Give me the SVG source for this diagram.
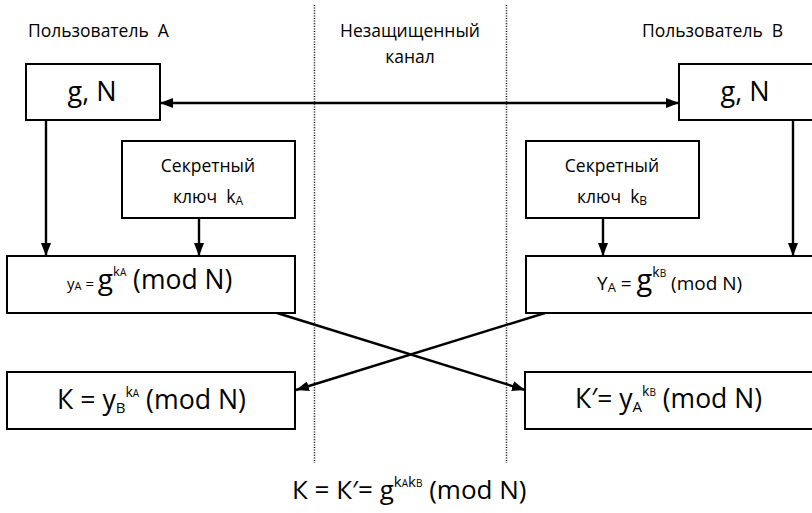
<svg xmlns="http://www.w3.org/2000/svg" width="812" height="513" viewBox="0 0 812 513">
<style>
text{font-family:"Open Sans","Noto Sans","DejaVu Sans",sans-serif;fill:#000;white-space:pre}
.box{fill:#fff;stroke:#000;stroke-width:2}
.lbl{font-size:17.5px}
.big{font-size:27px}
.sec{font-size:17.5px}
.dot{stroke:#000;stroke-width:1.5;stroke-dasharray:1 1.6;fill:none}
.arr{stroke:#000;stroke-width:2.4;fill:none}
</style>
<defs>
<marker id="ah" viewBox="0 0 13 10" refX="13" refY="5" markerWidth="13" markerHeight="10" markerUnits="userSpaceOnUse" orient="auto-start-reverse">
<path d="M0,0 L13,5 L0,10 z" fill="#000"/>
</marker>
</defs>
<rect width="812" height="513" fill="#fff"/>
<g id="channel">
<line class="dot" x1="314.5" y1="5" x2="314.5" y2="463"/>
<line class="dot" x1="506.5" y1="5" x2="506.5" y2="463"/>
<text class="lbl" x="410" y="37" text-anchor="middle">Незащищенный</text>
<text class="lbl" x="410" y="63" text-anchor="middle">канал</text>
</g>
<g id="userA"><text class="lbl" x="28" y="37" xml:space="preserve">Пользователь  A</text></g>
<g id="userB"><text class="lbl" x="642" y="37" xml:space="preserve">Пользователь  B</text></g>
<g id="connectors">
<line class="arr" x1="160" y1="103" x2="679" y2="103" marker-start="url(#ah)" marker-end="url(#ah)"/>
<line class="arr" x1="46" y1="120" x2="46" y2="256" marker-end="url(#ah)"/>
<line class="arr" x1="199" y1="218" x2="199" y2="256" marker-end="url(#ah)"/>
<line class="arr" x1="603" y1="218" x2="603" y2="256" marker-end="url(#ah)"/>
<line class="arr" x1="793" y1="120" x2="793" y2="256" marker-end="url(#ah)"/>
<line class="arr" x1="277" y1="313" x2="525" y2="390" marker-end="url(#ah)"/>
<line class="arr" x1="545" y1="313" x2="296" y2="390" marker-end="url(#ah)"/>
</g>
<g id="gN_A">
<rect class="box" x="26" y="64" width="134" height="56"/>
<text class="big" x="92" y="101" text-anchor="middle">g, N</text>
</g>
<g id="gN_B">
<rect class="box" x="679" y="64" width="140" height="56"/>
<text class="big" x="745" y="101" text-anchor="middle">g, N</text>
</g>
<g id="keyA">
<rect class="box" x="122" y="141" width="173" height="77"/>
<text class="sec" x="208" y="172" text-anchor="middle">Секретный</text>
<text class="sec" x="208" y="203" text-anchor="middle" xml:space="preserve">ключ  k<tspan font-size="12" dy="2">A</tspan></text>
</g>
<g id="keyB">
<rect class="box" x="526" y="141" width="173" height="77"/>
<text class="sec" x="612" y="172" text-anchor="middle">Секретный</text>
<text class="sec" x="612" y="203" text-anchor="middle" xml:space="preserve">ключ  k<tspan font-size="12" dy="2">B</tspan></text>
</g>
<g id="yA">
<rect class="box" x="7" y="256" width="288" height="57"/>
<text x="67" y="289" font-size="15">y<tspan font-size="11" dy="1">A</tspan><tspan dy="-1"> = </tspan><tspan font-size="28">g</tspan><tspan font-size="13" dy="-13">k</tspan><tspan font-size="10">A</tspan><tspan font-size="26.5" dy="13"> (mod N)</tspan></text>
</g>
<g id="yB">
<rect class="box" x="526" y="256" width="293" height="57"/>
<text x="597" y="290" font-size="19">Y<tspan font-size="13" dy="2">A</tspan><tspan dy="-2"> = </tspan><tspan font-size="29">g</tspan><tspan font-size="14" dy="-13">k</tspan><tspan font-size="10">B</tspan><tspan font-size="19" dy="13"> (mod N)</tspan></text>
</g>
<g id="KA">
<rect class="box" x="7" y="372" width="288" height="57"/>
<text x="57" y="409" font-size="26.7">К = y<tspan font-size="15" dy="4">B</tspan><tspan font-size="14" dy="-16">k</tspan><tspan font-size="10">A</tspan><tspan dy="12"> (mod N)</tspan></text>
</g>
<g id="KB">
<rect class="box" x="525" y="372" width="294" height="57"/>
<text x="575" y="408" font-size="26.5">К′= y<tspan font-size="15" dy="4">A</tspan><tspan font-size="14" dy="-16">k</tspan><tspan font-size="10">B</tspan><tspan dy="12"> (mod N)</tspan></text>
</g>
<g id="result">
<text x="292" y="499" font-size="26">К = К′= g<tspan font-size="15" dy="-12">k</tspan><tspan font-size="10">A</tspan><tspan font-size="15">k</tspan><tspan font-size="10">B</tspan><tspan dy="12"> (mod N)</tspan></text>
</g>
</svg>
